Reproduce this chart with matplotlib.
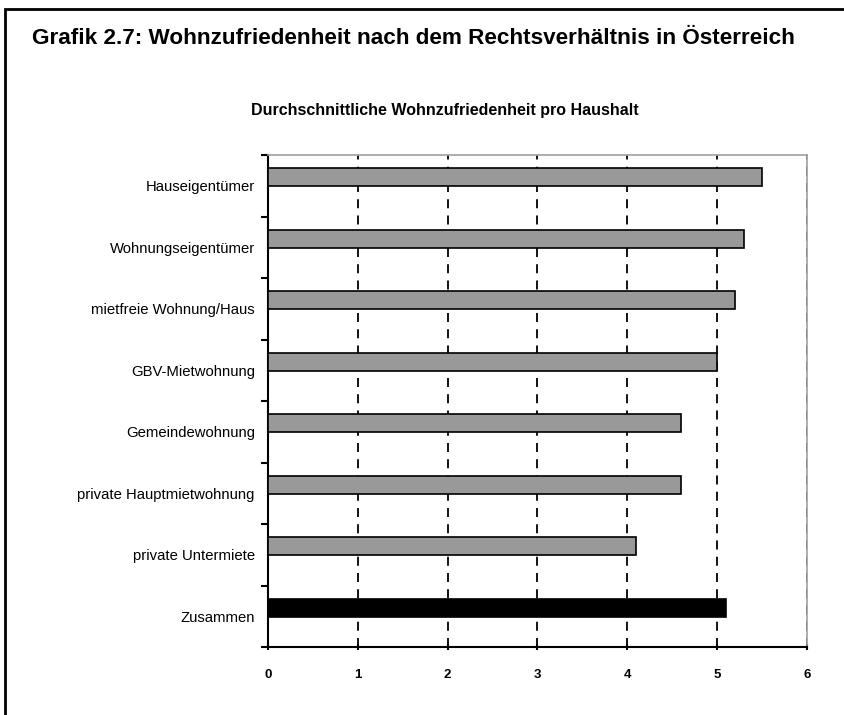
import matplotlib
matplotlib.use("Agg")
import matplotlib.pyplot as plt
from matplotlib.patches import Rectangle
import numpy as np

# data
categories = [
    "Hauseigentümer",
    "Wohnungseigentümer",
    "mietfreie Wohnung/Haus",
    "GBV-Mietwohnung",
    "Gemeindewohnung",
    "private Hauptmietwohnung",
    "private Untermiete",
    "Zusammen",
]
satisfaction = [5.5, 5.3, 5.2, 5.0, 4.6, 4.6, 4.1, 5.1]
bar_colors = ["#999999"] * 7 + ["#000000"]
x_ticks = [0, 1, 2, 3, 4, 5, 6]

plt.rcParams["font.family"] = ["Liberation Sans", "DejaVu Sans"]

fig = plt.figure(figsize=(8.45, 7.15), dpi=100)

# black frame around the whole figure (runs off the right/bottom edge)
fig.patches.append(Rectangle((5 / 845, -0.05), 1.2, 1 - 5 / 715 + 0.05 - 4 / 715,
                             transform=fig.transFigure, fill=False,
                             edgecolor="black", linewidth=2))

fig.text(32 / 845, 1 - 38 / 715,
         "Grafik 2.7: Wohnzufriedenheit nach dem Rechtsverhältnis in Österreich",
         ha="left", va="center", fontsize=16.2, fontweight="bold")
fig.text(445 / 845, 1 - 111 / 715, "Durchschnittliche Wohnzufriedenheit pro Haushalt",
         ha="center", va="center", fontsize=11.5, fontweight="bold")

ax = fig.add_axes([268 / 845, 1 - 647 / 715, 539 / 845, 492 / 715])

pos = np.arange(len(categories))
ax.barh(pos - 0.14, satisfaction, height=0.29, color=bar_colors,
        edgecolor="black", linewidth=1.2, zorder=3)

ax.set_xlim(0, 6)
ax.set_ylim(len(categories) - 0.5, -0.5)
ax.set_xticks(x_ticks)
ax.set_xticklabels([str(t) for t in x_ticks], fontsize=9.5, fontweight="bold")

# tick marks between categories, labels at category centres
ax.set_yticks(np.arange(-0.5, len(categories), 1.0))
ax.set_yticklabels([])
ax.set_yticks(pos, minor=True)
ax.set_yticklabels(categories, minor=True, fontsize=10.7)
ax.tick_params(axis="y", which="minor", length=0, pad=9.5)
ax.tick_params(axis="y", which="major", length=5, width=1.5, direction="out")
ax.tick_params(axis="x", length=5, width=1.5, direction="inout", pad=13)

ax.grid(axis="x", color="black", linestyle=(0, (5, 4)), linewidth=1.3, zorder=1)
ax.spines["left"].set_linewidth(1.5)
ax.spines["bottom"].set_linewidth(1.5)
ax.spines["right"].set_color("#a0a0a0")
ax.spines["top"].set_color("#a0a0a0")
ax.spines["right"].set_linewidth(1.2)
ax.spines["top"].set_linewidth(1.2)

fig.savefig("out.png", dpi=100)
